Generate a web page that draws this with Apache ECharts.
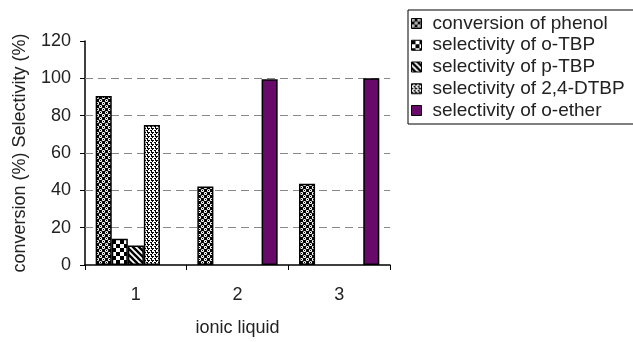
<!DOCTYPE html>
<html>
<head>
<meta charset="utf-8">
<script src="https://cdn.jsdelivr.net/npm/echarts@6/dist/echarts.min.js"></script>
<style>
html,body{margin:0;padding:0;background:#fff;}
#chart{width:633px;height:342px;}
</style>
</head>
<body>
<div id="chart"></div>
<script>
var categories = ['1', '2', '3'];
var seriesNames = ['conversion of phenol', 'selectivity of o-TBP', 'selectivity of p-TBP', 'selectivity of 2,4-DTBP', 'selectivity of o-ether'];
var conversionPhenol = [90.5, 42, 43.5];
var selectivityOTBP = [14, '-', '-'];
var selectivityPTBP = [10.5, '-', '-'];
var selectivityDTBP = [75, '-', '-'];
var selectivityEther = ['-', 99.5, 100];
var gridValues = [20, 40, 60, 80, 100];

function tile(w, h, draw) {
  var c = document.createElement('canvas');
  c.width = w; c.height = h;
  var g = c.getContext('2d');
  draw(g, w, h);
  return c;
}
var patCircles = tile(6, 6, function (g, w, h) {
  g.fillStyle = '#000'; g.fillRect(0, 0, w, h);
  g.fillStyle = '#fff';
  [[1.5, 1.5], [4.5, 4.5], [-1.5, 4.5], [4.5, -1.5], [7.5, 1.5], [1.5, 7.5], [7.5, 7.5], [-1.5, -1.5]].forEach(function (p) {
    g.beginPath(); g.arc(p[0], p[1], 1.6, 0, Math.PI * 2); g.fill();
  });
  g.fillStyle = '#000';
  g.fillRect(1, 1, 1, 1); g.fillRect(4, 4, 1, 1);
});
var patChecker = tile(8, 8, function (g, w, h) {
  g.fillStyle = '#fff'; g.fillRect(0, 0, w, h);
  g.fillStyle = '#000'; g.fillRect(0, 0, 4, 4); g.fillRect(4, 4, 4, 4);
});
var patDiag = tile(6, 6, function (g, w, h) {
  g.fillStyle = '#fff'; g.fillRect(0, 0, w, h);
  g.strokeStyle = '#000'; g.lineWidth = 2.4;
  for (var k = -1; k <= 1; k++) {
    g.beginPath(); g.moveTo(-1, 6 * k - 1); g.lineTo(7, 6 * k + 7); g.stroke();
  }
});
var patSpeckle = tile(4, 4, function (g, w, h) {
  g.fillStyle = '#fff'; g.fillRect(0, 0, w, h);
  g.fillStyle = '#000';
  g.fillRect(0, 0, 2, 1); g.fillRect(0, 1, 1, 1); g.fillRect(2, 2, 2, 1); g.fillRect(3, 3, 1, 1); g.fillRect(3, 0, 1, 1);
});
var fills = [
  { image: patCircles, repeat: 'repeat' },
  { image: patChecker, repeat: 'repeat' },
  { image: patDiag, repeat: 'repeat' },
  { image: patSpeckle, repeat: 'repeat' },
  '#680a6a'
];
var dataSets = [conversionPhenol, selectivityOTBP, selectivityPTBP, selectivityDTBP, selectivityEther];

var series = dataSets.map(function (d, i) {
  var s = {
    name: seriesNames[i],
    type: 'bar',
    data: d,
    barGap: '0%',
    barCategoryGap: '21%',
    z: 2,
    itemStyle: { color: fills[i], borderColor: '#000', borderWidth: 1.5 },
    emphasis: { disabled: true }
  };
  if (i === 0) {
    s.markLine = {
      z: 1,
      silent: true,
      symbol: 'none',
      label: { show: false },
      lineStyle: { color: '#888', type: [8, 5], width: 1.2 },
      data: gridValues.map(function (v) { return { yAxis: v }; })
    };
  }
  return s;
});

var chart = echarts.init(document.getElementById('chart'), null, { renderer: 'canvas' });
chart.setOption({
  animation: false,
  backgroundColor: '#fff',
  textStyle: { fontFamily: 'Liberation Sans, Arial, sans-serif' },
  grid: { left: 85, right: 243, top: 41, bottom: 73 },
  legend: {
    data: seriesNames,
    orient: 'vertical',
    left: 408,
    top: 10,
    padding: [4, 60, 4, 3],
    itemGap: 2.75,
    itemWidth: 10,
    itemHeight: 10,
    icon: 'rect',
    borderColor: '#000',
    borderWidth: 1,
    itemStyle: { borderColor: '#000', borderWidth: 1 },
    textStyle: { fontSize: 19, color: '#222', padding: [0, 0, 0, 6], lineHeight: 18 }
  },
  xAxis: {
    type: 'category',
    data: categories,
    name: 'ionic liquid',
    nameLocation: 'middle',
    nameGap: 54,
    nameTextStyle: { fontSize: 18, color: '#222' },
    axisLine: { lineStyle: { color: '#000', width: 1.5 } },
    axisTick: { show: true, length: 5, lineStyle: { color: '#000' } },
    axisLabel: { fontSize: 18, color: '#222', margin: 21 }
  },
  yAxis: {
    type: 'value',
    min: 0,
    max: 120,
    interval: 20,
    name: 'conversion (%) Selectivity (%)',
    nameLocation: 'middle',
    nameGap: 56,
    nameTextStyle: { fontSize: 18, color: '#222' },
    axisLine: { show: true, lineStyle: { color: '#000', width: 1.5 } },
    axisTick: { show: true, length: 5, lineStyle: { color: '#000' } },
    axisLabel: { fontSize: 18, color: '#222', margin: 14 },
    splitLine: { show: false }
  },
  series: series
});
</script>
</body>
</html>
